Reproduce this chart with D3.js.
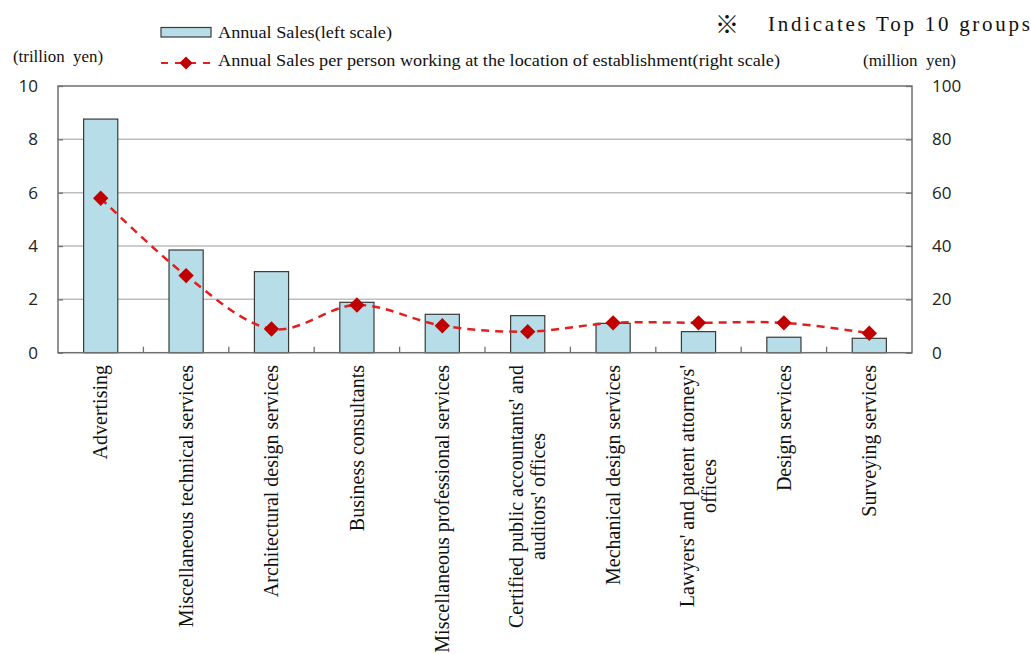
<!DOCTYPE html>
<html>
<head>
<meta charset="utf-8">
<script src="https://cdn.jsdelivr.net/npm/d3@7"></script>
<style>
  html, body { margin: 0; padding: 0; background: #fff; }
  svg { display: block; }
</style>
</head>
<body>
<svg id="chart" width="1031" height="654"></svg>
<script>
const categories = [
  "Advertising",
  "Miscellaneous technical services",
  "Architectural design services",
  "Business consultants",
  "Miscellaneous professional services",
  "Certified public accountants' and\nauditors' offices",
  "Mechanical design services",
  "Lawyers' and patent attorneys'\noffices",
  "Design services",
  "Surveying services"
];
const annualSales = [8.76, 3.85, 3.04, 1.89, 1.44, 1.39, 1.1, 0.79, 0.58, 0.54];
const salesPerPerson = [57.9, 28.9, 8.9, 17.9, 10.1, 7.9, 11.2, 11.2, 11.2, 7.3];
const leftTicks = [0, 2, 4, 6, 8, 10];
const rightTicks = [0, 20, 40, 60, 80, 100];
const legendBarLabel = "Annual Sales(left scale)";
const legendLineLabel = "Annual Sales per person working at the location of establishment(right scale)";
const leftUnit = "(trillion\u00a0\u00a0yen)";
const rightUnit = "(million\u00a0\u00a0yen)";
const noteMark = "\u203b";
const noteText = "Indicates Top 10 groups";

const svg = d3.select("#chart");
const L = 58, R = 912, T = 86, B = 352.7;
const serif = "'Liberation Serif','Times New Roman',serif";
const sans = "'Open Sans','Noto Sans',sans-serif";
const frameColor = "#6f6f6f";

const x = d3.scaleBand().domain(categories).range([L, R]).padding(0);
const yL = d3.scaleLinear().domain([0, 10]).range([B, T]);
const yR = d3.scaleLinear().domain([0, 100]).range([B, T]);

svg.append("rect").attr("width", 1031).attr("height", 654).attr("fill", "#fff");

// gridlines
svg.append("g").selectAll("line").data(leftTicks.filter(d => d > 0 && d < 10)).join("line")
  .attr("x1", L).attr("x2", R)
  .attr("y1", d => yL(d)).attr("y2", d => yL(d))
  .attr("stroke", "#bdbdbd").attr("stroke-width", 1.5);

// bars
const barW = x.bandwidth() * 0.4;
svg.append("g").selectAll("rect").data(categories).join("rect")
  .attr("x", (d) => x(d) + x.bandwidth() / 2 - barW / 2)
  .attr("y", (d, i) => yL(annualSales[i]))
  .attr("width", barW)
  .attr("height", (d, i) => B - yL(annualSales[i]))
  .attr("fill", "#b7dee8")
  .attr("stroke", "#3a3a3a").attr("stroke-width", 1.2);

// frame
svg.append("rect").attr("x", L).attr("y", T).attr("width", R - L).attr("height", B - T)
  .attr("fill", "none").attr("stroke", frameColor).attr("stroke-width", 1.5);

// left axis
const axL = svg.append("g").attr("transform", `translate(${L},0)`)
  .call(d3.axisLeft(yL).tickValues(leftTicks).tickSize(-5).tickPadding(20).tickFormat(d3.format("d")));
axL.select(".domain").remove();
axL.selectAll(".tick line").attr("stroke", frameColor).attr("stroke-width", 1.3);
axL.selectAll(".tick text").attr("font-family", sans).attr("font-size", 17).attr("fill", "#222");

// right axis
const axR = svg.append("g").attr("transform", `translate(${R},0)`)
  .call(d3.axisRight(yR).tickValues(rightTicks).tickSize(-6).tickPadding(20).tickFormat(d3.format("d")));
axR.select(".domain").remove();
axR.selectAll(".tick line").attr("stroke", frameColor).attr("stroke-width", 1.3);
axR.selectAll(".tick text").attr("font-family", sans).attr("font-size", 17).attr("fill", "#222");

// x ticks at category boundaries
svg.append("g").selectAll("line").data(categories.slice(1)).join("line")
  .attr("x1", d => x(d)).attr("x2", d => x(d))
  .attr("y1", B).attr("y2", B - 6)
  .attr("stroke", frameColor).attr("stroke-width", 1.3);

// x labels (rotated, multi-line centered)
const labelTop = 365, lineGap = 22;
categories.forEach((c) => {
  const lines = c.split("\n");
  const g = svg.append("g");
  const t = g.append("text").attr("font-family", serif).attr("font-size", 20)
    .attr("fill", "#111").attr("text-anchor", "middle");
  lines.forEach((ln, j) => {
    t.append("tspan").attr("x", 0).attr("y", (j - (lines.length - 1) / 2) * lineGap).attr("dy", "0.33em").text(ln);
  });
  let maxLen = 0;
  t.selectAll("tspan").each(function () { maxLen = Math.max(maxLen, this.getComputedTextLength()); });
  g.attr("transform", `translate(${x(c) + x.bandwidth() / 2},${labelTop + maxLen / 2}) rotate(-90)`);
});

// line (right scale)
const cx = (d, i) => x(categories[i]) + x.bandwidth() / 2;
const line = d3.line().x((d, i) => cx(d, i)).y(d => yR(d)).curve(d3.curveCatmullRom.alpha(0));
svg.append("path").datum(salesPerPerson).attr("d", line)
  .attr("fill", "none").attr("stroke", "#e02020").attr("stroke-width", 2.5)
  .attr("stroke-dasharray", "8,6");
svg.append("g").selectAll("path").data(salesPerPerson).join("path")
  .attr("d", d3.symbol(d3.symbolDiamond2, 150))
  .attr("transform", (d, i) => `translate(${cx(d, i)},${yR(d)})`)
  .attr("fill", "#c00000");

// legend
svg.append("rect").attr("x", 161).attr("y", 27.5).attr("width", 50).attr("height", 9.5)
  .attr("fill", "#b7dee8").attr("stroke", "#3a3a3a").attr("stroke-width", 1.2);
svg.append("text").attr("x", 218).attr("y", 38).attr("font-family", serif).attr("font-size", 16)
  .attr("textLength", 174).attr("lengthAdjust", "spacingAndGlyphs").attr("fill", "#111").text(legendBarLabel);
svg.append("line").attr("x1", 161).attr("x2", 211).attr("y1", 63).attr("y2", 63)
  .attr("stroke", "#e02020").attr("stroke-width", 2.2).attr("stroke-dasharray", "7,7");
svg.append("path").attr("d", d3.symbol(d3.symbolDiamond2, 110)).attr("transform", "translate(186,63)").attr("fill", "#c00000");
svg.append("text").attr("x", 218).attr("y", 66).attr("font-family", serif).attr("font-size", 16)
  .attr("textLength", 562).attr("lengthAdjust", "spacingAndGlyphs").attr("fill", "#111").text(legendLineLabel);

// units
svg.append("text").attr("x", 13).attr("y", 62).attr("font-family", serif).attr("font-size", 16)
  .attr("textLength", 90).attr("lengthAdjust", "spacingAndGlyphs").attr("fill", "#111").text(leftUnit);
svg.append("text").attr("x", 863).attr("y", 66).attr("font-family", serif).attr("font-size", 16)
  .attr("textLength", 93).attr("lengthAdjust", "spacingAndGlyphs").attr("fill", "#111").text(rightUnit);

// note
svg.append("text").attr("x", 727).attr("y", 22).attr("font-family", "'Noto Sans CJK JP','DejaVu Sans',serif").attr("font-size", 24)
  .attr("text-anchor", "middle").attr("dominant-baseline", "central")
  .attr("fill", "#111").text(noteMark);
svg.append("text").attr("x", 768).attr("y", 31).attr("font-family", serif).attr("font-size", 21)
  .attr("textLength", 262).attr("lengthAdjust", "spacing").attr("fill", "#111").text(noteText);
</script>
</body>
</html>
